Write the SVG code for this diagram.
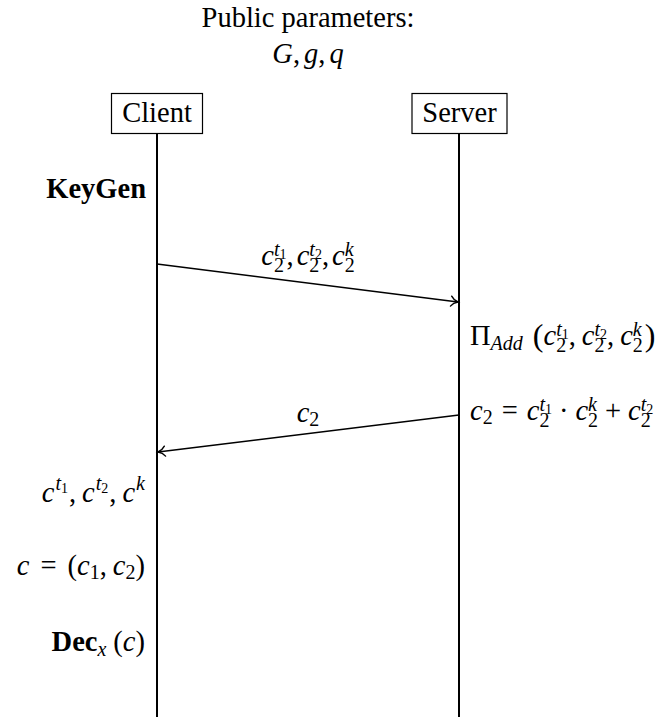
<svg xmlns="http://www.w3.org/2000/svg" width="661" height="717" viewBox="0 0 661 717" font-family="'Liberation Serif', 'Times New Roman', Times, 'DejaVu Serif', serif">
<defs>
<style>
text{font-family:'Liberation Serif','Times New Roman',Times,'DejaVu Serif',serif}
.m{font-size:28.5px;fill:#000}
.i{font-style:italic}
.b{font-weight:bold}
.s{font-size:20px;font-style:normal}
.si{font-size:20px;font-style:italic}
.ss{font-size:14px;font-style:normal}
.life{stroke:#000;stroke-width:2;fill:none}
.box{stroke:#000;stroke-width:1.2;fill:#fff}
.msg{stroke:#000;stroke-width:1.6;fill:none;marker-end:url(#to)}
</style>
<marker id="to" markerUnits="userSpaceOnUse" viewBox="-9 -7 11 14" markerWidth="11" markerHeight="14" refX="0" refY="0" orient="auto" overflow="visible">
<path d="M-7,-5 C-5,-2 -2,-0.6 0,0 C-2,0.6 -5,2 -7,5" fill="none" stroke="#000" stroke-width="1.4" stroke-linecap="round"/>
</marker>
</defs>
<rect width="661" height="717" fill="#fff"/>
<g id="public-params">
<text class="m" x="308" y="27" text-anchor="middle">Public parameters:</text>
<text class="m" x="308" y="63" text-anchor="middle"><tspan class="i">G</tspan>,<tspan class="i" dx="4">g</tspan>,<tspan class="i" dx="4">q</tspan></text>
</g>
<g id="connectors">
<line class="life" x1="157" y1="133" x2="157" y2="717"/>
<line class="life" x1="459" y1="133" x2="459" y2="717"/>
<line class="msg" x1="157" y1="264" x2="458" y2="302"/>
<line class="msg" x1="459" y1="415" x2="158" y2="452"/>
</g>
<g id="client">
<rect class="box" x="111.5" y="93.5" width="91" height="40"/>
<text class="m" x="157" y="122" text-anchor="middle">Client</text>
</g>
<g id="server">
<rect class="box" x="412" y="93.5" width="95" height="40"/>
<text class="m" x="459.5" y="122" text-anchor="middle">Server</text>
</g>
<g id="keygen">
<text class="m b" x="146" y="198" text-anchor="end">KeyGen</text>
</g>
<g id="msg1-label">
<text class="m" x="308" y="265" text-anchor="middle"><tspan class="i">c</tspan><tspan class="s" dy="7">2</tspan><tspan class="si" dx="-10" dy="-16">t</tspan><tspan class="ss" dy="3">1</tspan><tspan dy="6">,</tspan><tspan class="i" dx="3">c</tspan><tspan class="s" dy="7">2</tspan><tspan class="si" dx="-10" dy="-16">t</tspan><tspan class="ss" dy="3">2</tspan><tspan dy="6">,</tspan><tspan class="i" dx="3">c</tspan><tspan class="s" dy="7">2</tspan><tspan class="si" dx="-10" dy="-16">k</tspan></text>
</g>
<g id="pi-add">
<text class="m" x="470" y="345"><tspan>Π</tspan><tspan class="si" dy="5">Add</tspan><tspan dx="10" dy="-4" font-size="32">(</tspan><tspan class="i" dy="-1">c</tspan><tspan class="s" dy="7">2</tspan><tspan class="si" dx="-10" dy="-16">t</tspan><tspan class="ss" dy="3">1</tspan><tspan dy="6">,</tspan><tspan class="i" dx="6">c</tspan><tspan class="s" dy="7">2</tspan><tspan class="si" dx="-10" dy="-16">t</tspan><tspan class="ss" dy="3">2</tspan><tspan dy="6">,</tspan><tspan class="i" dx="6">c</tspan><tspan class="s" dy="7">2</tspan><tspan class="si" dx="-10" dy="-16">k</tspan><tspan dy="10" dx="3" font-size="32">)</tspan></text>
</g>
<g id="server-compute">
<text class="m" x="470" y="420"><tspan class="i">c</tspan><tspan class="s" dy="4">2</tspan><tspan dx="9" dy="-4">=</tspan><tspan class="i" dx="9">c</tspan><tspan class="s" dy="7">2</tspan><tspan class="si" dx="-10" dy="-16">t</tspan><tspan class="ss" dy="3">1</tspan><tspan dx="7" dy="6">·</tspan><tspan class="i" dx="7">c</tspan><tspan class="s" dy="7">2</tspan><tspan class="si" dx="-10" dy="-16">k</tspan><tspan dx="8" dy="9">+</tspan><tspan class="i" dx="7">c</tspan><tspan class="s" dy="7">2</tspan><tspan class="si" dx="-10" dy="-16">t</tspan><tspan class="ss" dy="3">2</tspan></text>
</g>
<g id="msg2-label">
<text class="m" x="308" y="422" text-anchor="middle"><tspan class="i">c</tspan><tspan class="s" dy="4">2</tspan></text>
</g>
<g id="client-keys">
<text class="m" x="145" y="502" text-anchor="end"><tspan class="i">c</tspan><tspan class="si" dy="-12" dx="1">t</tspan><tspan class="ss" dy="3">1</tspan><tspan dy="9" dx="1">,</tspan><tspan class="i" dx="6">c</tspan><tspan class="si" dy="-12" dx="1">t</tspan><tspan class="ss" dy="3">2</tspan><tspan dy="9" dx="1">,</tspan><tspan class="i" dx="6">c</tspan><tspan class="si" dy="-12" dx="1">k</tspan></text>
</g>
<g id="client-cipher">
<text class="m" x="145" y="575" text-anchor="end"><tspan class="i">c</tspan><tspan dx="11">=</tspan><tspan dx="11">(</tspan><tspan class="i">c</tspan><tspan class="s" dy="4">1</tspan><tspan dy="-4">,</tspan><tspan class="i" dx="6">c</tspan><tspan class="s" dy="4">2</tspan><tspan dy="-4">)</tspan></text>
</g>
<g id="client-dec">
<text class="m" x="145" y="651" text-anchor="end"><tspan class="b">Dec</tspan><tspan class="si" dy="5">x</tspan><tspan dx="7" dy="-5">(</tspan><tspan class="i">c</tspan><tspan>)</tspan></text>
</g>
</svg>
